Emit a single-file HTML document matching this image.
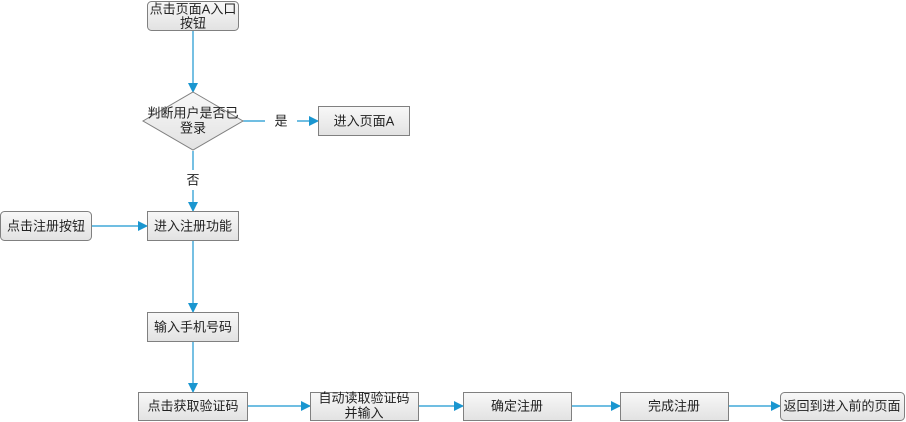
<!DOCTYPE html>
<html><head><meta charset="utf-8"><style>
html,body{margin:0;padding:0;background:#fff;width:906px;height:422px;overflow:hidden}
svg text{font-family:"Liberation Sans","Noto Sans CJK SC",sans-serif;font-size:13px;fill:#222;text-anchor:middle;dominant-baseline:central}
</style></head><body>
<svg width="906" height="422" viewBox="0 0 906 422" xmlns="http://www.w3.org/2000/svg">
<defs>
<linearGradient id="g" x1="0" y1="0" x2="0" y2="1"><stop offset="0" stop-color="#f8f8f8"/><stop offset="1" stop-color="#e2e2e2"/></linearGradient>
<marker id="a" markerWidth="10" markerHeight="10" refX="9" refY="5" orient="auto" markerUnits="userSpaceOnUse"><path d="M0,0 L10,5 L0,10 Z" fill="#1a96d0"/></marker>
</defs>
<g stroke="#1a96d0" stroke-width="1.2" fill="none">
<line x1="193" y1="30" x2="193" y2="92" marker-end="url(#a)"/>
<line x1="243" y1="121" x2="265" y2="121"/>
<line x1="297" y1="121" x2="318" y2="121" marker-end="url(#a)"/>
<line x1="193" y1="151" x2="193" y2="170"/>
<line x1="193" y1="190" x2="193" y2="211" marker-end="url(#a)"/>
<line x1="91" y1="226" x2="147" y2="226" marker-end="url(#a)"/>
<line x1="193" y1="240" x2="193" y2="312" marker-end="url(#a)"/>
<line x1="193" y1="341" x2="193" y2="392" marker-end="url(#a)"/>
<line x1="248" y1="406" x2="310" y2="406" marker-end="url(#a)"/>
<line x1="419" y1="406" x2="463" y2="406" marker-end="url(#a)"/>
<line x1="572" y1="406" x2="620" y2="406" marker-end="url(#a)"/>
<line x1="729" y1="406" x2="780" y2="406" marker-end="url(#a)"/>
</g>
<g fill="url(#g)" stroke="#808080" stroke-width="1">
<rect x="147.5" y="1.5" width="91" height="29" rx="4"/>
<polygon points="193,92 243,121 193,150 143,121"/>
<rect x="318.5" y="106.5" width="91" height="29"/>
<rect x="0.5" y="211.5" width="91" height="29" rx="4"/>
<rect x="147.5" y="211.5" width="91" height="29"/>
<rect x="147.5" y="312.5" width="91" height="29"/>
<rect x="138.5" y="392.5" width="109" height="28"/>
<rect x="310.5" y="392.5" width="108" height="28"/>
<rect x="463.5" y="392.5" width="108" height="28"/>
<rect x="620.5" y="392.5" width="108" height="28"/>
<rect x="780.5" y="392.5" width="124" height="28" rx="4"/>
</g>
<text x="193" y="9">点击页面A入口</text>
<text x="193" y="23">按钮</text>
<text x="193" y="113">判断用户是否已</text>
<text x="193" y="128">登录</text>
<text x="281" y="121">是</text>
<text x="364" y="121">进入页面A</text>
<text x="193" y="180">否</text>
<text x="46" y="226">点击注册按钮</text>
<text x="193" y="226">进入注册功能</text>
<text x="193" y="327">输入手机号码</text>
<text x="193" y="406">点击获取验证码</text>
<text x="364" y="398">自动读取验证码</text>
<text x="364" y="413">并输入</text>
<text x="517" y="406">确定注册</text>
<text x="674" y="406">完成注册</text>
<text x="842" y="406">返回到进入前的页面</text>
</svg>
</body></html>
